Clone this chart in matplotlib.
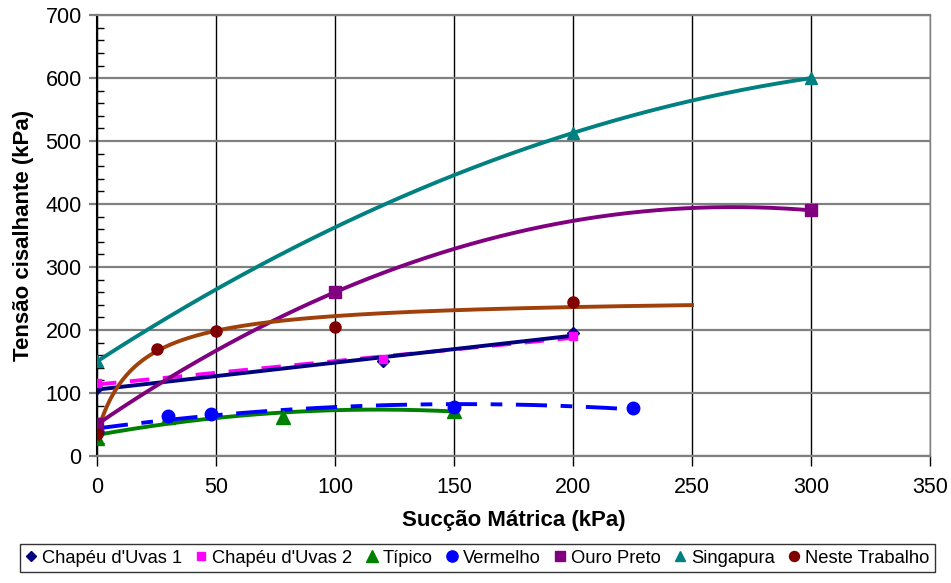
import numpy as np
import matplotlib
matplotlib.use('Agg')
import matplotlib.pyplot as plt
from matplotlib.ticker import MultipleLocator

plt.rcParams['font.family'] = ['Liberation Sans', 'DejaVu Sans']

# measured points (succao matrica kPa, tensao cisalhante kPa)
cu1_x = [0, 120, 200]
cu1_y = [108, 150, 195]
cu2_x = [0, 120, 200]
cu2_y = [115, 154, 190]
tip_x = [0, 30, 78, 150]
tip_y = [28, 62, 62, 72]
ver_x = [0, 30, 48, 150, 225]
ver_y = [38, 63, 67, 77, 76]
op_x = [0, 100, 300]
op_y = [50, 260, 390]
sg_x = [0, 200, 300]
sg_y = [150, 513, 600]
nt_x = [0, 25, 50, 100, 200]
nt_y = [35, 170, 198, 205, 245]

# x extent of each trend line
cu1_end = 200
cu2_end = 200
tip_end = 150
ver_end = 225
op_end = 300
sg_end = 300
nt_end = 250

lw = 2.8

fig, ax = plt.subplots(figsize=(9.51, 5.83), dpi=100)
fig.subplots_adjust(left=0.102, right=0.978, bottom=0.218, top=0.974)


def poly_trend(x, y, deg, xend):
    c = np.polyfit(x, y, deg)
    xs = np.linspace(0, xend, 200)
    return xs, np.polyval(c, xs)


# trend lines
xs, ys = poly_trend(cu2_x, cu2_y, 1, cu2_end)
ax.plot(xs, ys, color='#FF00FF', lw=lw, dashes=(5, 3.5), zorder=3)
xs, ys = poly_trend(cu1_x, cu1_y, 1, cu1_end)
ax.plot(xs, ys, color='#000080', lw=lw, zorder=3)
xs, ys = poly_trend(tip_x, tip_y, 2, tip_end)
ax.plot(xs, ys, color='#008000', lw=lw, zorder=3)
xs, ys = poly_trend(ver_x, ver_y, 2, ver_end)
ax.plot(xs, ys, color='#0000FF', lw=lw, dashes=(8, 3.5, 3, 3.5), zorder=3)
xs, ys = poly_trend(op_x, op_y, 2, op_end)
ax.plot(xs, ys, color='#800080', lw=lw, zorder=3)
xs, ys = poly_trend(sg_x, sg_y, 2, sg_end)
ax.plot(xs, ys, color='#008080', lw=lw, zorder=3)

# hyperbolic trend y = y0 + x/(a + b x), fitted by linearisation
x = np.array(nt_x[1:], float)
y = np.array(nt_y[1:], float)
y0 = nt_y[0]
b, a = np.polyfit(x, x / (y - y0), 1, w=(y - y0) ** 2 / x)
xs = np.linspace(0, nt_end, 300)
ax.plot(xs, y0 + xs / (a + b * xs), color='#A0400A', lw=lw, zorder=3)

# markers
ax.plot(cu1_x, cu1_y, 'D', color='#000080', ms=6, ls='none', zorder=4, label="Chapéu d'Uvas 1")
ax.plot(cu2_x, cu2_y, 's', color='#FF00FF', ms=6, ls='none', zorder=4, label="Chapéu d'Uvas 2")
ax.plot(tip_x, tip_y, '^', color='#008000', ms=10, ls='none', zorder=4, label='Típico')
ax.plot(ver_x, ver_y, 'o', color='#0000FF', ms=9, ls='none', zorder=4, label='Vermelho')
ax.plot(op_x, op_y, 's', color='#800080', ms=8, ls='none', zorder=4, label='Ouro Preto')
ax.plot(sg_x, sg_y, '^', color='#008080', ms=8, ls='none', zorder=4, label='Singapura')
ax.plot(nt_x, nt_y, 'o', color='#800000', ms=8, ls='none', zorder=4, label='Neste Trabalho')

ax.set_xlim(0, 350)
ax.set_ylim(0, 700)
ax.xaxis.set_major_locator(MultipleLocator(50))
ax.yaxis.set_major_locator(MultipleLocator(100))
ax.yaxis.set_minor_locator(MultipleLocator(20))

ax.grid(axis='y', which='major', color='#808080', lw=1.6, zorder=1)
ax.grid(axis='x', which='major', color='black', lw=1.0, zorder=1)

for s in ['top', 'bottom', 'right']:
    ax.spines[s].set_color('#808080')
ax.spines['top'].set_linewidth(1.6)
ax.spines['bottom'].set_linewidth(1.6)
ax.spines['right'].set_linewidth(1.0)
ax.spines['left'].set_color('black')
ax.spines['left'].set_linewidth(1.5)

ax.tick_params(axis='x', which='major', direction='out', length=7, width=1, color='black',
               labelsize=15.5, pad=8)
ax.tick_params(axis='y', which='major', direction='out', length=6, width=1.6, color='#808080',
               labelsize=15.5, pad=5)
ax.tick_params(axis='y', which='minor', direction='in', length=5, width=1, color='black')

ax.set_xlabel('Sucção Mátrica (kPa)', fontsize=16, fontweight='bold', labelpad=9)
ax.set_ylabel('Tensão cisalhante (kPa)', fontsize=16, fontweight='bold', labelpad=8)

leg = fig.legend(loc='lower center', bbox_to_anchor=(0.502, 0.003), ncol=7, fontsize=13.2,
                 frameon=True, fancybox=False, edgecolor='black', handlelength=0.6,
                 handletextpad=0.3, columnspacing=0.75, borderpad=0.3, markerscale=0.9)
leg.get_frame().set_linewidth(1.0)

plt.savefig('out.png', dpi=100)
